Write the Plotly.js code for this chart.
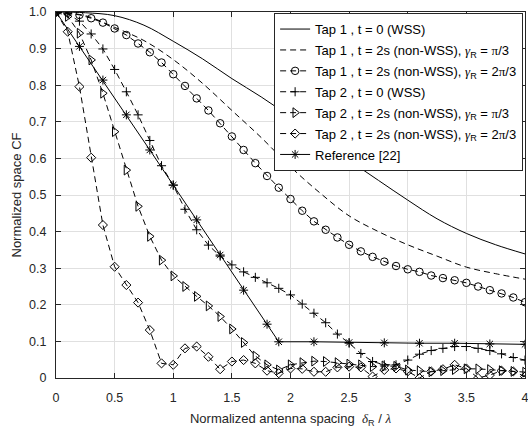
<!DOCTYPE html>
<html>
<head>
<meta charset="utf-8">
<script src="https://cdn.plot.ly/plotly-3.0.1.min.js"></script>
<style>
  html, body { margin: 0; padding: 0; background: #ffffff; }
  #chart { width: 528px; height: 428px; }
</style>
</head>
<body>
<div id="chart"></div>
<script>
// Antenna spacing grid (delta_R / lambda) used by the marker series
const spacing = [0, 0.1, 0.2, 0.3, 0.4, 0.5, 0.6, 0.7, 0.8, 0.9,
                 1.0, 1.1, 1.2, 1.3, 1.4, 1.5, 1.6, 1.7, 1.8, 1.9,
                 2.0, 2.1, 2.2, 2.3, 2.4, 2.5, 2.6, 2.7, 2.8, 2.9,
                 3.0, 3.1, 3.2, 3.3, 3.4, 3.5, 3.6, 3.7, 3.8, 3.9, 4.0];

// Coarser grid for the smooth analytic curves of tap 1
const spacingSmooth = [0, 0.25, 0.5, 0.75, 1.0, 1.25, 1.5, 1.75, 2.0,
                       2.25, 2.5, 2.75, 3.0, 3.25, 3.5, 3.75, 4.0];

// Tap 1, t = 0 (WSS)
const tap1Wss = [1.0, 0.998, 0.99, 0.964, 0.92, 0.872, 0.818, 0.768, 0.713,
                 0.654, 0.595, 0.54, 0.486, 0.435, 0.395, 0.364, 0.339];

// Tap 1, t = 2s, gamma_R = pi/3
const tap1Pi3 = [1.0, 0.99, 0.958, 0.922, 0.87, 0.805, 0.731, 0.657, 0.577,
                 0.506, 0.443, 0.4, 0.364, 0.333, 0.303, 0.285, 0.27];

// Tap 1, t = 2s, gamma_R = 2pi/3
const tap1TwoPi3 = [1.0, 0.998, 0.992, 0.983, 0.971, 0.955, 0.937, 0.914, 0.89, 0.862,
                    0.83, 0.798, 0.764, 0.731, 0.696, 0.66, 0.623, 0.587, 0.552, 0.52,
                    0.489, 0.457, 0.428, 0.405, 0.384, 0.364, 0.346, 0.331, 0.318, 0.306,
                    0.297, 0.29, 0.28, 0.273, 0.267, 0.26, 0.25, 0.24, 0.231, 0.22, 0.207];

// Tap 2, t = 0 (WSS)
const tap2Wss = [1.0, 0.995, 0.975, 0.94, 0.899, 0.843, 0.782, 0.719, 0.649, 0.58,
                 0.527, 0.461, 0.405, 0.363, 0.333, 0.309, 0.29, 0.275, 0.26, 0.245,
                 0.227, 0.202, 0.177, 0.151, 0.12, 0.095, 0.067, 0.045, 0.036, 0.036,
                 0.049, 0.065, 0.075, 0.081, 0.086, 0.086, 0.081, 0.075, 0.066, 0.056, 0.049];

// Tap 2, t = 2s, gamma_R = pi/3
const tap2Pi3 = [1.0, 0.988, 0.942, 0.869, 0.778, 0.673, 0.568, 0.469, 0.387, 0.322,
                 0.279, 0.25, 0.223, 0.197, 0.168, 0.134, 0.097, 0.06, 0.036, 0.022,
                 0.036, 0.042, 0.046, 0.045, 0.042, 0.038, 0.036, 0.031, 0.033, 0.032,
                 0.022, 0.02, 0.017, 0.02, 0.023, 0.025, 0.025, 0.023, 0.02, 0.018, 0.016];

// Tap 2, t = 2s, gamma_R = 2pi/3
const tap2TwoPi3 = [1.0, 0.946, 0.796, 0.602, 0.418, 0.304, 0.254, 0.206, 0.131, 0.04,
                    0.036, 0.081, 0.086, 0.058, 0.024, 0.045, 0.049, 0.04, 0.02, 0.013,
                    0.026, 0.025, 0.017, 0.017, 0.029, 0.031, 0.029, 0.004, 0.022, 0.026,
                    0.018, 0.0, 0.018, 0.024, 0.036, 0.026, 0.0, 0.008, 0.02, 0.018, 0.004];

// Reference [22]
const refSpacing = [0, 0.2, 0.4, 0.6, 0.8, 1.0, 1.2, 1.4, 1.6, 1.8,
                    1.9, 2.2, 2.5, 2.8, 3.1, 3.4, 3.7, 4.0];
const refValues = [1.0, 0.906, 0.814, 0.719, 0.623, 0.527, 0.432, 0.336, 0.24, 0.147,
                   0.099, 0.099, 0.097, 0.096, 0.095, 0.095, 0.093, 0.092];

// Axis ticks
const xTickVals = [0, 0.5, 1, 1.5, 2, 2.5, 3, 3.5, 4];
const xTickText = ['0', '0.5', '1', '1.5', '2', '2.5', '3', '3.5', '4'];
const yTickVals = [0, 0.1, 0.2, 0.3, 0.4, 0.5, 0.6, 0.7, 0.8, 0.9, 1.0];
const yTickText = ['0', '0.1', '0.2', '0.3', '0.4', '0.5', '0.6', '0.7', '0.8', '0.9', '1.0'];

const SANS = 'Liberation Sans, Arial, Helvetica, sans-serif';
const serif = s => "<span style='font-family:Liberation Serif, Times New Roman, serif'>" + s + "</span>";
const gammaR = serif('<i>γ</i>') + '<sub>R</sub>';
const pi = serif('π');

const DASH = '6px,4px';
const INK = '#000000';

function series(name, x, y, dash, symbol, size) {
  const t = {
    type: 'scatter',
    x: x, y: y, name: name,
    legendgroup: name,
    mode: symbol ? 'lines+markers' : 'lines',
    line: { color: INK, width: 1, dash: dash }
  };
  if (symbol) {
    t.marker = { symbol: symbol, size: size, color: INK, line: { color: INK, width: 1 } };
  }
  return t;
}

const traces = [
  series('Tap 1 , t = 0 (WSS)', spacingSmooth, tap1Wss, 'solid', null),
  series('Tap 1 , t = 2s (non-WSS), ' + gammaR + ' = ' + pi + '/3', spacingSmooth, tap1Pi3, DASH, null),
  series('Tap 1 , t = 2s (non-WSS), ' + gammaR + ' = 2' + pi + '/3', spacing, tap1TwoPi3, DASH, 'circle-open', 7.5),
  series('Tap 2 , t = 0 (WSS)', spacing, tap2Wss, DASH, 'cross-thin-open', 6.5),
  series('Tap 2 , t = 2s (non-WSS), ' + gammaR + ' = ' + pi + '/3', spacing, tap2Pi3, DASH, 'triangle-right-open', 8.5),
  series('Tap 2 , t = 2s (non-WSS), ' + gammaR + ' = 2' + pi + '/3', spacing, tap2TwoPi3, DASH, 'diamond-open', 7),
  series('Reference [22]', refSpacing, refValues, 'solid', 'asterisk-open', 7.5)
];
traces[0].line.shape = 'spline';
traces[1].line.shape = 'spline';

const axisCommon = {
  showgrid: true,
  gridcolor: '#e0e0e0',
  gridwidth: 1,
  zeroline: false,
  showline: true,
  linecolor: '#262626',
  linewidth: 1,
  mirror: 'allticks',
  ticks: 'inside',
  ticklen: 5,
  tickwidth: 1,
  tickcolor: '#262626',
  ticklabeloverflow: 'allow',
  tickfont: { family: SANS, size: 12.5, color: '#262626' }
};

const layout = {
  width: 528,
  height: 428,
  margin: { l: 56, r: 3, t: 12, b: 50 },
  paper_bgcolor: '#ffffff',
  plot_bgcolor: '#ffffff',
  font: { family: SANS, color: '#262626' },
  showlegend: true,
  xaxis: Object.assign({}, axisCommon, {
    range: [0, 4],
    tickmode: 'array',
    tickvals: xTickVals,
    ticktext: xTickText,
    ticklabelstandoff: 8,
    title: {
      text: 'Normalized antenna spacing&nbsp;&nbsp;' + serif('<i>δ</i>') + '<sub>R</sub> / ' + serif('<i>λ</i>'),
      font: { family: SANS, size: 13, color: '#262626' },
      standoff: 10
    }
  }),
  yaxis: Object.assign({}, axisCommon, {
    range: [0, 1],
    tickmode: 'array',
    tickvals: yTickVals,
    ticktext: yTickText,
    ticklabelstandoff: 6,
    title: {
      text: 'Normalized space CF',
      font: { family: SANS, size: 13, color: '#262626' },
      standoff: 4
    }
  }),
  legend: {
    x: 0.996,
    xanchor: 'right',
    y: 0.997,
    yanchor: 'top',
    bgcolor: '#ffffff',
    bordercolor: '#262626',
    borderwidth: 1,
    tracegroupgap: 1,
    itemwidth: 30,
    font: { family: SANS, size: 13, color: '#000000' }
  }
};

Plotly.newPlot('chart', traces, layout, { staticPlot: true, displayModeBar: false });
</script>
</body>
</html>
